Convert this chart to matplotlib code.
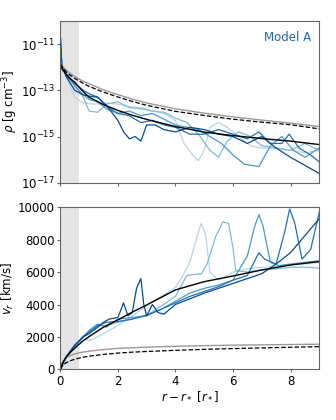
import numpy as np
import matplotlib
matplotlib.use("Agg")
import matplotlib.pyplot as plt

# ---------------- data ----------------
# analytic reference models
x_ref = [0.0, 0.05, 0.1, 0.2, 0.35, 0.5, 0.75, 1.0, 1.5, 2.0, 2.5, 3.0, 4.0, 5.0, 6.0, 7.0, 8.0, 9.0]
logrho_black = [-11.9, -12.05, -12.15, -12.3, -12.5, -12.65, -13.0, -13.3, -13.62, -13.87, -14.08, -14.26, -14.57, -14.81, -14.96, -15.09, -15.2, -15.35]
logrho_dash = [-11.85, -11.95, -12.05, -12.2, -12.35, -12.48, -12.67, -12.83, -13.08, -13.29, -13.48, -13.65, -13.91, -14.09, -14.25, -14.38, -14.49, -14.67]
logrho_gray = [-11.8, -11.9, -12.0, -12.12, -12.27, -12.4, -12.58, -12.72, -12.98, -13.19, -13.38, -13.55, -13.8, -13.99, -14.15, -14.29, -14.42, -14.57]
v_black = [0, 250, 450, 750, 1050, 1300, 1700, 2020, 2600, 3050, 3530, 3970, 4900, 5410, 5760, 6130, 6440, 6650]
v_gray = [0, 350, 500, 700, 850, 950, 1050, 1120, 1220, 1290, 1330, 1370, 1420, 1460, 1490, 1510, 1530, 1550]
v_dash = [0, 150, 250, 400, 530, 620, 730, 810, 920, 1000, 1060, 1100, 1170, 1230, 1280, 1320, 1360, 1400]

# simulation snapshots (5 curves, light -> dark)
rho_x = [
    [0.0, 0.05, 0.2, 0.5, 0.8, 1.2, 1.6, 2.0, 2.4, 2.8, 3.2, 3.6, 4.0, 4.3, 4.6, 4.8, 5.0, 5.2, 5.5, 5.8, 6.2, 6.6, 7.0, 7.5, 8.0, 8.5, 9.0],
    [0.0, 0.05, 0.2, 0.5, 0.8, 1.0, 1.3, 1.6, 2.0, 2.4, 2.8, 3.2, 3.6, 4.0, 4.4, 4.8, 5.2, 5.5, 5.8, 6.2, 6.6, 7.0, 7.5, 8.0, 8.5, 9.0],
    [0.0, 0.05, 0.2, 0.5, 0.8, 1.0, 1.3, 1.6, 2.0, 2.4, 2.8, 3.2, 3.6, 4.0, 4.4, 4.8, 5.2, 5.6, 6.0, 6.4, 6.9, 7.3, 7.7, 8.1, 8.5, 9.0],
    [0.0, 0.05, 0.2, 0.5, 0.8, 1.0, 1.3, 1.6, 2.0, 2.4, 2.8, 3.2, 3.6, 4.0, 4.5, 5.0, 5.5, 6.0, 6.5, 6.9, 7.3, 7.7, 7.95, 8.3, 8.7, 9.0],
    [0.0, 0.05, 0.2, 0.5, 0.8, 1.0, 1.3, 1.6, 2.0, 2.2, 2.4, 2.6, 2.8, 3.0, 3.3, 3.6, 4.0, 4.5, 5.0, 5.5, 6.0, 6.5, 7.0, 7.5, 8.0, 9.0],
]
rho_log = [
    [-10.6, -11.9, -12.4, -13.3, -13.55, -13.6, -13.55, -13.6, -13.7, -13.75, -13.9, -14.0, -14.3, -15.3, -15.8, -16.05, -15.6, -14.6, -14.4, -14.6, -15.0, -15.4, -15.5, -15.5, -15.6, -15.7, -15.6],
    [-10.6, -11.9, -12.2, -12.8, -13.3, -13.9, -13.95, -13.6, -13.5, -13.75, -13.8, -13.9, -13.95, -14.2, -14.4, -14.9, -15.6, -15.9, -15.2, -14.8, -15.0, -15.4, -15.5, -15.6, -15.3, -15.6],
    [-10.6, -11.9, -12.3, -12.8, -13.2, -13.4, -13.5, -13.8, -14.0, -13.9, -14.1, -14.0, -14.25, -14.5, -14.6, -14.7, -15.0, -15.3, -15.8, -16.2, -16.3, -15.4, -15.0, -15.6, -15.9, -15.5],
    [-10.6, -11.9, -12.35, -12.7, -13.0, -13.15, -13.3, -13.7, -14.0, -14.1, -14.4, -14.3, -14.5, -14.6, -14.9, -14.9, -14.7, -14.9, -15.1, -14.8, -15.3, -15.3, -14.9, -15.5, -15.8, -16.1],
    [-10.6, -11.9, -12.4, -13.0, -13.2, -13.25, -13.3, -13.65, -14.3, -14.8, -15.1, -15.0, -15.2, -14.5, -14.5, -14.7, -14.8, -14.6, -14.7, -14.9, -15.0, -15.3, -15.0, -15.5, -15.9, -16.6],
]
v_x = [
    [0.0, 0.2, 0.5, 0.8, 1.0, 1.3, 1.6, 2.0, 2.5, 3.0, 3.5, 4.0, 4.2, 4.5, 4.75, 4.9, 5.05, 5.2, 5.5, 6.0, 6.5, 7.0, 7.5, 8.0, 8.5, 9.0],
    [0.0, 0.2, 0.5, 0.8, 1.0, 1.3, 1.6, 2.0, 2.5, 3.0, 3.5, 4.0, 4.4, 4.9, 5.1, 5.4, 5.65, 5.85, 6.0, 6.1, 6.5, 7.0, 7.5, 8.0, 8.5, 9.0],
    [0.0, 0.2, 0.5, 0.8, 1.0, 1.3, 1.6, 2.0, 2.5, 3.0, 3.5, 4.0, 4.5, 5.0, 5.5, 6.0, 6.5, 6.75, 6.9, 7.05, 7.3, 7.6, 8.0, 8.5, 9.0],
    [0.0, 0.2, 0.5, 0.8, 1.0, 1.3, 1.6, 2.0, 2.5, 3.0, 3.5, 4.0, 4.5, 5.0, 5.5, 6.0, 6.5, 6.9, 7.1, 7.5, 7.8, 7.97, 8.15, 8.4, 8.7, 9.0],
    [0.0, 0.2, 0.5, 0.8, 1.0, 1.3, 1.5, 1.7, 2.0, 2.2, 2.35, 2.5, 2.65, 2.8, 2.9, 3.0, 3.2, 3.4, 3.6, 4.0, 5.0, 6.0, 7.0, 7.5, 8.0, 9.0],
]
v_y = [
    [0, 800, 1500, 1900, 1750, 2000, 2300, 2700, 3300, 3950, 4500, 5050, 5600, 6600, 8200, 9000, 8300, 6000, 5500, 6000, 6200, 6300, 6350, 6450, 6500, 6600],
    [0, 750, 1400, 2000, 2300, 2700, 2700, 2900, 3100, 3300, 3900, 4500, 5800, 5900, 6500, 8200, 9100, 9000, 7500, 6100, 6000, 6150, 6200, 6300, 6300, 6250],
    [0, 700, 1400, 2000, 2400, 2800, 2600, 3100, 3200, 3300, 3700, 4200, 4700, 5000, 5200, 5500, 7000, 8800, 9550, 8800, 6600, 6400, 6500, 6600, 6700],
    [0, 750, 1450, 2050, 2300, 2700, 2900, 2950, 3100, 3350, 3700, 4100, 4500, 4800, 5100, 5500, 5800, 7200, 6800, 6500, 8500, 9900, 9000, 6800, 7400, 9700],
    [0, 750, 1500, 2000, 2200, 2600, 2900, 3100, 3200, 4100, 3300, 3500, 5000, 5600, 4000, 3300, 4000, 3500, 3400, 4000, 4700, 5300, 5900, 6500, 7200, 9300],
]
shades = [0.3, 0.45, 0.6, 0.75, 0.9]
label = "Model A"

# ---------------- plot ----------------
fig = plt.figure(figsize=(3.36, 4.2), dpi=100)
W, H = 336, 420
ax1 = fig.add_axes([60.3 / W, 1 - 182.7 / H, 259 / W, 161.7 / H])
ax2 = fig.add_axes([60.3 / W, 1 - 369.3 / H, 259 / W, 162 / H])

cmap = plt.get_cmap("Blues")
for xs, ys, s in zip(rho_x, rho_log, shades):
    ax1.plot(xs, 10 ** np.array(ys), color=cmap(s), lw=0.9)
for xs, ys, s in zip(v_x, v_y, shades):
    ax2.plot(xs, ys, color=cmap(s), lw=0.9)

ax1.plot(x_ref, 10 ** np.array(logrho_gray), color="#999999", lw=1.0)
ax1.plot(x_ref, 10 ** np.array(logrho_dash), color="black", lw=0.9, ls="--")
ax1.plot(x_ref, 10 ** np.array(logrho_black), color="black", lw=1.0)
ax2.plot(x_ref, v_gray, color="#999999", lw=1.0)
ax2.plot(x_ref, v_dash, color="black", lw=0.9, ls="--")
ax2.plot(x_ref, v_black, color="black", lw=1.0)

FS = 8.5
for ax in (ax1, ax2):
    ax.axvspan(0, 0.64, color="#e4e4e4", zorder=0, lw=0)
    ax.set_xlim(0, 9)
    for sp in ax.spines.values():
        sp.set_color("#666666")
    ax.tick_params(labelsize=FS, length=2.5, pad=1.5, color="#666666")
    ax.set_xticks([0, 2, 4, 6, 8])

ax1.set_yscale("log")
ax1.set_ylim(1e-17, 1e-10)
ax1.set_yticks([1e-17, 1e-15, 1e-13, 1e-11])
ax1.yaxis.set_minor_locator(matplotlib.ticker.NullLocator())
ax1.set_xticklabels([])
ax1.set_ylabel(r"$\rho$ [g cm$^{-3}$]", fontsize=FS, labelpad=1)
ax1.text(0.97, 0.94, label, transform=ax1.transAxes, ha="right", va="top",
         color="#1f65b0", fontsize=FS)

ax2.set_ylim(0, 10000)
ax2.set_yticks([0, 2000, 4000, 6000, 8000, 10000])
ax2.set_ylabel(r"$v_r$ [km/s]", fontsize=FS, labelpad=1)
ax2.set_xlabel(r"$r - r_*$ [$r_*$]", fontsize=FS, labelpad=1)

fig.savefig("out.png", dpi=100)
